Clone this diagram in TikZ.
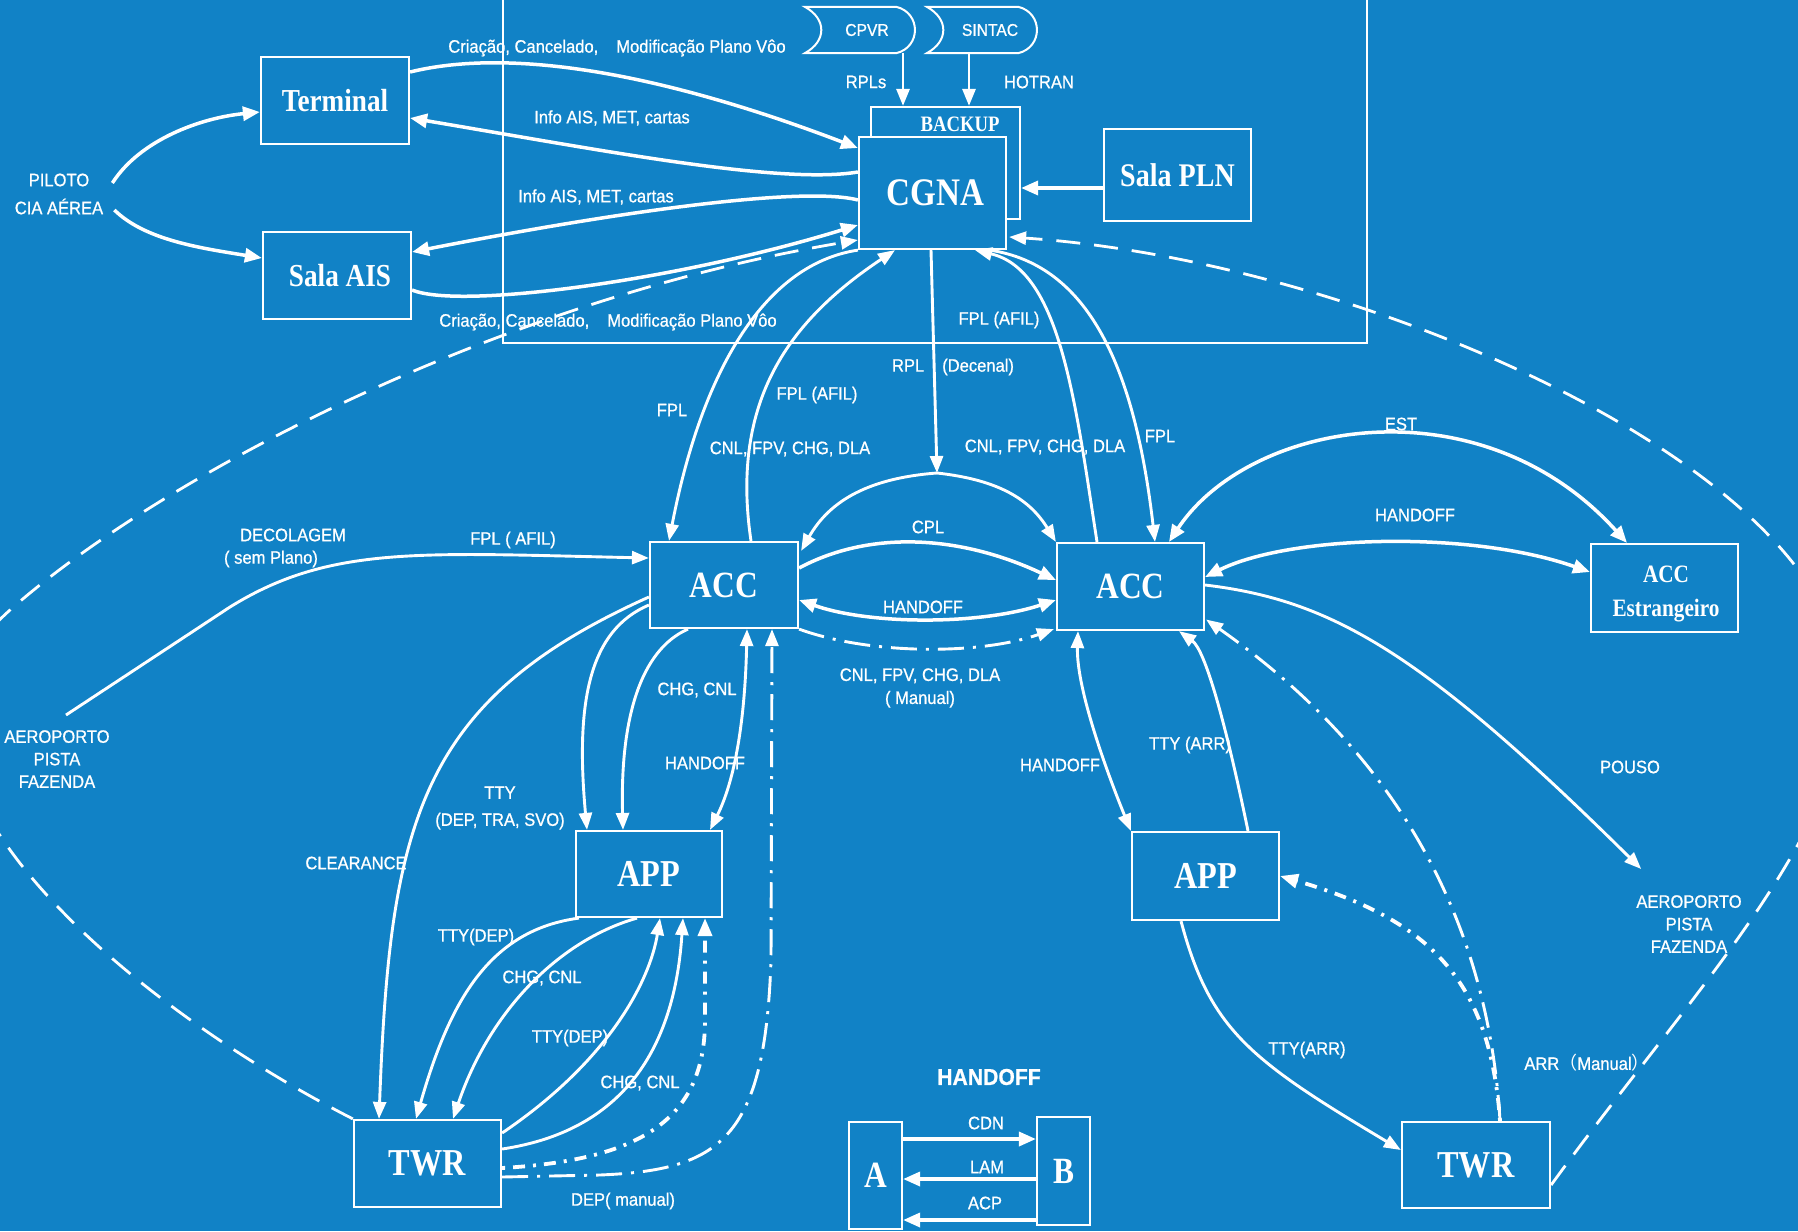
\documentclass[tikz,border=0pt]{standalone}
\usepackage{fontspec}
\usetikzlibrary{arrows.meta}
\newfontfamily\lblfont[FakeStretch=0.92,FakeBold=0.8]{Liberation Sans}
\newfontfamily\boxfont[FakeStretch=0.85]{Liberation Serif}
\newfontfamily\cjkfont{Noto Sans CJK SC}
\definecolor{bg}{RGB}{17,130,198}
\newcommand\myfs[1]{\fontsize{#1}{#1}\selectfont}
\begin{document}
\begin{tikzpicture}[x=1pt,y=-1pt,
  box/.style={draw=white,line width=2.2pt,fill=bg,inner sep=0pt,text=white},
  bf/.style={font=\boxfont\bfseries\myfs{#1}},
  lbl/.style={text=white,inner sep=0pt,font=\lblfont\fontsize{18}{22}\selectfont,align=center},
  conn/.style={draw=white,line width=2.9pt,-{Triangle[length=17pt,width=13pt]}},
  wconn/.style={draw=white,line width=3.5pt,-{Triangle[length=17pt,width=14pt]}},
  dbl/.style={draw=white,line width=2.9pt,{Triangle[length=17pt,width=13pt]}-{Triangle[length=17pt,width=13pt]}},
  wdbl/.style={draw=white,line width=3.5pt,{Triangle[length=17pt,width=14pt]}-{Triangle[length=17pt,width=14pt]}},
  mydashdot/.style={dash pattern=on 26pt off 9pt on 3pt off 9pt},
  thickdd/.style={draw=white,line width=3.8pt,dash pattern=on 3pt off 8pt on 12pt off 8pt,-{Triangle[length=18pt,width=14pt]}},
  bigdash/.style={draw=white,line width=2.8pt,dash pattern=on 24pt off 14pt,-{Triangle[length=17pt,width=13pt]}},
]
\fill[bg] (0,0) rectangle (1798,1231);
\useasboundingbox (0,0) rectangle (1798,1231);
\begin{scope}
\clip (0,0) rectangle (1798,1231);

% outer frame
\draw[white,line width=1.6pt] (503,-5) -- (503,343) -- (1367,343) -- (1367,-5);

% boxes
\node[box,bf=32,minimum width=148pt,minimum height=87pt] (term) at (335,100.5) {Terminal};
\node[box,bf=32,minimum width=148pt,minimum height=87pt] (sais) at (337,275.5) {\hspace*{6pt}Sala AIS};
\node[box,minimum width=149pt,minimum height=112pt] (backup) at (945.5,163) {};
\node[lbl,font=\boxfont\bfseries\myfs{22}] (backuplbl) at (960,124) {BACKUP};
\node[box,bf=39,minimum width=147pt,minimum height=112pt] (cgna) at (932.5,193) {\hspace*{6pt}CGNA};
\node[box,bf=33,minimum width=147pt,minimum height=92pt] (spln) at (1177.5,175) {Sala PLN};
\node[box,bf=37,minimum width=148pt,minimum height=86pt] (acca) at (724,585) {ACC};
\node[box,bf=37,minimum width=147pt,minimum height=87pt] (accb) at (1130.5,586.5) {ACC};
\node[box,minimum width=147pt,minimum height=88pt] (acce) at (1664.5,588) {};
\node[lbl,font=\boxfont\bfseries\fontsize{25}{25}\selectfont] (accelbl) at (1666,594) {ACC\\[9pt]Estrangeiro};
\node[box,bf=38,minimum width=146pt,minimum height=86pt] (appa) at (649,874) {APP};
\node[box,bf=38,minimum width=147pt,minimum height=87pt] (twra) at (427.5,1163.5) {TWR};
\node[box,bf=38,minimum width=147pt,minimum height=88pt] (appb) at (1205.5,876) {APP};
\node[box,bf=38,minimum width=148pt,minimum height=86pt] (twrb) at (1476,1165) {TWR};
\node[box,bf=37,minimum width=53pt,minimum height=107pt] (boxA) at (875.5,1175.5) {A};
\node[box,bf=37,minimum width=53pt,minimum height=108pt] (boxB) at (1063.5,1171) {B};

% stored-data shapes
\node[lbl,font=\lblfont\myfs{17},minimum width=110pt,minimum height=46pt] (cpvr) at (860,30) {\hspace*{14pt}CPVR};
\draw[white,line width=2pt] (cpvr.north west) .. controls +(22,12) and +(22,-12) .. (cpvr.south west) -- ([xshift=-19pt]cpvr.south east) .. controls +(25,-6) and +(25,6) .. ([xshift=-19pt]cpvr.north east) -- cycle;
\node[lbl,font=\lblfont\myfs{17},minimum width=110pt,minimum height=46pt] (sintac) at (982,30) {\hspace*{16pt}SINTAC};
\draw[white,line width=2pt] (sintac.north west) .. controls +(22,12) and +(22,-12) .. (sintac.south west) -- ([xshift=-19pt]sintac.south east) .. controls +(25,-6) and +(25,6) .. ([xshift=-19pt]sintac.north east) -- cycle;

% labels
\node[lbl,font=\lblfont\fontsize{18}{28}\selectfont] (pilot) at (59,194) {PILOTO\\CIA AÉREA};
\node[lbl,font=\lblfont\fontsize{18}{22.5}\selectfont] (aero1) at (57,759) {AEROPORTO\\PISTA\\FAZENDA};
\node[lbl,font=\lblfont\fontsize{18}{22.5}\selectfont] (aero2) at (1689,924) {AEROPORTO\\PISTA\\FAZENDA};
\node[lbl] (l1) at (617,48) {Criação, Cancelado,\quad Modificação Plano Vôo};
\node[lbl] (l2) at (612,118) {Info AIS, MET, cartas};
\node[lbl] (l3) at (596,197) {Info AIS, MET, cartas};
\node[lbl] (l4) at (608,322) {Criação, Cancelado,\quad Modificação Plano Vôo};
\node[lbl] (rpls) at (866,82) {RPLs};
\node[lbl] (hotran) at (1039,82) {HOTRAN};
\node[lbl] (l5) at (999,320) {FPL (AFIL)};
\node[lbl] (l6) at (953,367) {RPL\quad(Decenal)};
\node[lbl] (l7) at (672,410) {FPL};
\node[lbl] (l8) at (817,395) {FPL (AFIL)};
\node[lbl] (l9) at (790,449) {CNL, FPV, CHG, DLA};
\node[lbl] (l10) at (1045,447) {CNL, FPV, CHG, DLA};
\node[lbl] (l11) at (1160,436) {FPL};
\node[lbl] (l12) at (928,527) {CPL};
\node[lbl] (l13) at (923,607) {HANDOFF};
\node[lbl,font=\lblfont\fontsize{18}{23}\selectfont] (l14) at (920,688) {CNL, FPV, CHG, DLA\\( Manual)};
\node[lbl] (l15) at (1401,424) {EST};
\node[lbl] (l16) at (1415,515) {HANDOFF};
\node[lbl] (l17) at (1630,767) {POUSO};
\node[lbl] (l18) at (293,535) {DECOLAGEM};
\node[lbl] (l19) at (271,559) {( sem Plano)};
\node[lbl] (l20) at (513,540) {FPL ( AFIL)};
\node[lbl] (l21) at (697,690) {CHG, CNL};
\node[lbl] (l22) at (705,763) {HANDOFF};
\node[lbl,font=\lblfont\fontsize{18}{27}\selectfont] (l23) at (500,808) {TTY\\(DEP, TRA, SVO)};
\node[lbl] (l24) at (356,863) {CLEARANCE};
\node[lbl] (l25) at (476,937) {TTY(DEP)};
\node[lbl] (l26) at (542,978) {CHG, CNL};
\node[lbl] (l27) at (570,1038) {TTY(DEP)};
\node[lbl] (l28) at (640,1083) {CHG, CNL};
\node[lbl] (l29) at (623,1201) {DEP( manual)};
\node[lbl] (l30) at (1060,765) {HANDOFF};
\node[lbl] (l31) at (1190,745) {TTY (ARR)};
\node[lbl] (l32) at (1307,1050) {TTY(ARR)};
\node[lbl] (l33) at (1587,1063) {ARR{\cjkfont （}Manual{\cjkfont ）}};
\node[lbl,font=\lblfont\bfseries\myfs{23}] (l34) at (989,1077) {HANDOFF};
\node[lbl] (l35) at (986,1123) {CDN};
\node[lbl] (l36) at (987,1167) {LAM};
\node[lbl] (l37) at (985,1203) {ACP};
\coordinate (split) at (937,473);

% big dashed arcs
\draw[bigdash] (twra.north west) .. controls (120,1000) and (-160,760) .. (10,610) .. controls (163,475) and (500,300) .. ([shift={(0,47)}]cgna.west);
\draw[bigdash] ([shift={(0,20)}]twrb.east) .. controls (1700,980) and (1890,790) .. (1835,640) .. controls (1780,450) and (1350,260) .. ([shift={(2,44)}]cgna.east);

% top-left connectors
\draw[wconn] ([shift={(9,-11)}]pilot.east) .. controls (140,140) and (200,118) .. ([shift={(0,11.5)}]term.west);
\draw[wconn] ([shift={(11,16)}]pilot.east) .. controls (145,240) and (200,248) .. ([shift={(0,-17.5)}]sais.west);
\draw[wconn] ([shift={(0,-28.5)}]term.east) .. controls (520,45) and (680,80) .. ([shift={(0,-45)}]cgna.west);
\draw[wconn] ([shift={(0,-21)}]cgna.west) .. controls (780,185) and (600,150) .. ([shift={(0,17.5)}]term.east);
\draw[wconn] ([shift={(0,7)}]cgna.west) .. controls (800,185) and (600,215) .. ([shift={(0,-23.5)}]sais.east);
\draw[wconn] ([shift={(0,14.5)}]sais.east) .. controls (460,310) and (680,280) .. ([shift={(0,32)}]cgna.west);
\draw[conn] ([shift={(43,0)}]cpvr.south) -- ([shift={(-42.5,0)}]backup.north);
\draw[conn] ([shift={(-13,0)}]sintac.south) -- ([shift={(23.5,0)}]backup.north);
\draw[wconn] ([shift={(0,13)}]spln.west) -- ([shift={(0,25)}]backup.east);

% CGNA <-> ACC
\draw[conn] (cgna.south west) .. controls (760,265) and (700,380) .. ([shift={(-55,0)}]acca.north);
\draw[conn] ([shift={(27,0)}]acca.north) .. controls (730,400) and (790,320) .. ([shift={(-37.5,0)}]cgna.south);
\draw[conn] ([shift={(-1.5,0)}]cgna.south) -- (split);
\draw[conn] (split) .. controls (870,478) and (830,500) .. ([shift={(2,10)}]acca.north east);
\draw[conn] (split) .. controls (1000,480) and (1030,500) .. (accb.north west);
\draw[conn] ([shift={(-33.5,0)}]accb.north) .. controls (1075,400) and (1060,270) .. ([shift={(42.5,0)}]cgna.south);
\draw[conn] ([shift={(57,0)}]cgna.south) .. controls (1090,265) and (1135,370) .. ([shift={(24.5,0)}]accb.north);

% ACC <-> ACC
\draw[wconn] ([shift={(0,-17)}]acca.east) .. controls (870,530) and (960,535) .. ([shift={(0,-6.5)}]accb.west);
\draw[wdbl] ([shift={(0,15)}]acca.east) .. controls (870,625) and (980,625) .. ([shift={(0,13.5)}]accb.west);
\draw[conn,mydashdot] (acca.south east) .. controls (870,655) and (980,655) .. ([shift={(-2,-2)}]accb.south west);

% right side
\draw[wdbl] ([shift={(38.5,0)}]accb.north) .. controls (1250,420) and (1480,380) .. ([shift={(-37.5,0)}]acce.north);
\draw[wdbl] ([shift={(0,-9.5)}]accb.east) .. controls (1290,535) and (1470,530) .. ([shift={(0,-16)}]acce.west);
\draw[conn] ([shift={(0,-1.5)}]accb.east) .. controls (1330,600) and (1420,650) .. ([shift={(5,-26)}]aero2.north west);
\draw[dbl] ([shift={(-52.5,0)}]accb.south) .. controls (1076,690) and (1110,780) .. (appb.north west);
\draw[conn] ([shift={(42.5,0)}]appb.north) .. controls (1225,720) and (1205,650) .. ([shift={(48.5,0)}]accb.south);
\draw[conn,mydashdot] ([shift={(24,0)}]twrb.north) .. controls (1490,950) and (1420,770) .. ([shift={(1,33)}]accb.east);
\draw[thickdd] ([shift={(24,0)}]twrb.north) .. controls (1490,980) and (1430,920) .. (appb.east);
\draw[conn] ([shift={(-24.5,0)}]appb.south) .. controls (1210,1030) and (1250,1060) .. ([shift={(0,-15)}]twrb.west);

% left side
\draw[conn] ([shift={(9,-15)}]aero1.north) -- (230,607) .. controls (330,545) and (420,553) .. ([shift={(0,-27)}]acca.west);
\draw[conn] ([shift={(0,12)}]acca.west) .. controls (420,700) and (390,820) .. ([shift={(-48.5,0)}]twra.north);
\draw[conn] ([shift={(0,20)}]acca.west) .. controls (590,630) and (575,700) .. ([shift={(-62,0)}]appa.north);
\draw[conn] ([shift={(-36,0)}]acca.south) .. controls (640,650) and (620,720) .. ([shift={(-26,0)}]appa.north);
\draw[dbl] ([shift={(23,0)}]acca.south) .. controls (745,720) and (735,780) .. ([shift={(61,0)}]appa.north);
\draw[conn,mydashdot] ([shift={(0,13.5)}]twra.east) -- (600,1175) .. controls (720,1170) and (765,1140) .. (771,960) -- ([shift={(48,0)}]acca.south);
\draw[thickdd] ([shift={(0,4.5)}]twra.east) .. controls (640,1160) and (705,1120) .. (705,1020) -- ([shift={(56,0)}]appa.south);
\draw[conn] ([shift={(4,0)}]appa.south west) .. controls (490,930) and (450,1000) .. ([shift={(-11.5,0)}]twra.north);
\draw[conn] ([shift={(-12,0)}]appa.south) .. controls (560,940) and (490,1010) .. ([shift={(25.5,0)}]twra.north);
\draw[conn] ([shift={(0,-30.5)}]twra.east) .. controls (610,1060) and (650,980) .. ([shift={(11,0)}]appa.south);
\draw[conn] ([shift={(0,-14.5)}]twra.east) .. controls (630,1130) and (675,1040) .. ([shift={(34,0)}]appa.south);

% legend
\draw[wconn] ([shift={(0,-36.5)}]boxA.east) -- ([shift={(0,-32)}]boxB.west);
\draw[wconn] ([shift={(0,8)}]boxB.west) -- ([shift={(0,3.5)}]boxA.east);
\draw[wconn] ([shift={(0,49)}]boxB.west) -- ([shift={(0,44.5)}]boxA.east);
\end{scope}
\end{tikzpicture}
\end{document}
